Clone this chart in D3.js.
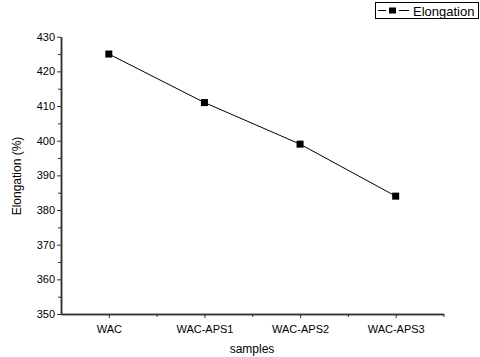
<!DOCTYPE html>
<html>
<head>
<meta charset="utf-8">
<script src="https://cdn.jsdelivr.net/npm/d3@7"></script>
<style>
  body { margin: 0; background: #fff; }
  text { font-family: "Liberation Sans", Arial, sans-serif; fill: #000; }
</style>
</head>
<body>
<div id="chart"></div>
<script>
const categories = ["WAC", "WAC-APS1", "WAC-APS2", "WAC-APS3"];
const elongation = [425, 411, 399, 384];
const yTicks = [350, 360, 370, 380, 390, 400, 410, 420, 430];
const seriesName = "Elongation";

const width = 480, height = 357;
const svg = d3.select("#chart").append("svg").attr("width", width).attr("height", height);

const x = d3.scaleLinear().domain([-0.5, categories.length - 0.5]).range([61, 443.5]);
const y = d3.scaleLinear().domain([350, 430]).range([314, 36.7]);

// y axis, major + minor ticks
svg.append("g").attr("transform", "translate(61,0)")
  .call(d3.axisLeft(y).tickValues(yTicks).tickSize(4).tickPadding(2).tickSizeOuter(0));
svg.append("g").attr("transform", "translate(61,0)")
  .call(d3.axisLeft(y).tickValues(d3.range(355, 430, 10)).tickSize(3).tickFormat("").tickSizeOuter(0));

// x axis
svg.append("g").attr("transform", "translate(0,314)")
  .call(d3.axisBottom(x).tickValues(d3.range(categories.length)).tickSize(4).tickPadding(7)
    .tickFormat(i => categories[i]).tickSizeOuter(0));
svg.append("g").attr("transform", "translate(0,314)")
  .call(d3.axisBottom(x).tickValues(d3.range(0.5, categories.length, 1)).tickSize(3).tickFormat("").tickSizeOuter(0));

svg.selectAll(".domain").attr("stroke", "#333").attr("stroke-width", 1.5);
svg.selectAll(".tick line").attr("stroke", "#333");
svg.selectAll(".tick text").style("font-size", "11px").attr("fill", "#000");

// titles
svg.append("text").attr("x", 252).attr("y", 353).attr("text-anchor", "middle")
  .style("font-size", "12px").text("samples");
svg.append("text").attr("transform", "translate(21,176) rotate(-90)").attr("text-anchor", "middle")
  .style("font-size", "12px").text("Elongation (%)");

// series
const line = d3.line().x((d, i) => x(i)).y(d => y(d));
svg.append("path").datum(elongation).attr("d", line)
  .attr("fill", "none").attr("stroke", "#000").attr("stroke-width", 1);
svg.selectAll(".pt").data(elongation).enter().append("rect")
  .attr("x", (d, i) => x(i) - 3.5).attr("y", d => y(d) - 3.5)
  .attr("width", 7).attr("height", 7).attr("fill", "#000");

// legend
const lg = svg.append("g");
lg.append("rect").attr("x", 375.5).attr("y", 2.5).attr("width", 103).attr("height", 16)
  .attr("fill", "#fff").attr("stroke", "#000");
lg.append("line").attr("x1", 378).attr("x2", 386).attr("y1", 10.5).attr("y2", 10.5).attr("stroke", "#000");
lg.append("line").attr("x1", 399).attr("x2", 409).attr("y1", 10.5).attr("y2", 10.5).attr("stroke", "#000");
lg.append("rect").attr("x", 389).attr("y", 7.5).attr("width", 7).attr("height", 6).attr("fill", "#000");
lg.append("text").attr("x", 413).attr("y", 15.5).style("font-size", "13px").text(seriesName);
</script>
</body>
</html>
